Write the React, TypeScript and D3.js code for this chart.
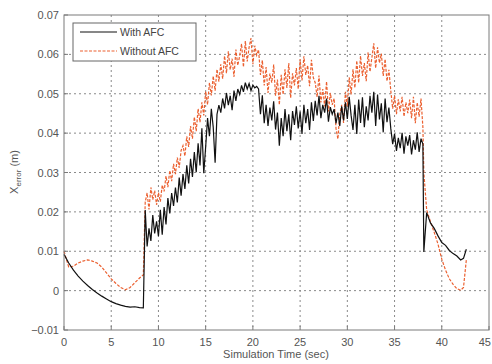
import React from "react";
import * as d3 from "d3";

// time samples (sec)
const startTime = [0, 0.5, 1, 1.5, 2, 2.5, 3, 3.5, 4, 4.5, 5, 5.5, 6, 6.5, 7, 7.5, 8, 8.4];
const noisyTime = d3.range(0, 148).map((i) => 8.6 + i * 0.2);
const tailTime = [38.1, 38.4, 38.8, 39.2, 39.6, 40.0, 40.4, 40.8, 41.2, 41.6, 42.0, 42.3, 42.6];

// With AFC (m)
const withStart = [0.0092, 0.007, 0.0052, 0.0037, 0.0024, 0.0013, 0.0003, -0.0006, -0.0014, -0.0021, -0.0028, -0.0033, -0.0037, -0.004, -0.0042, -0.0041, -0.0043, -0.0044];
const withNoisy = [
  0.0205, 0.0112, 0.0158, 0.0126, 0.0192, 0.0145, 0.0176, 0.0138, 0.0205, 0.0142,
  0.0212, 0.0168, 0.0235, 0.0196, 0.0248, 0.0215, 0.0262, 0.0224, 0.0287, 0.0241,
  0.0296, 0.0258, 0.0318, 0.0272, 0.0335, 0.0289, 0.0352, 0.0301, 0.0374, 0.0318,
  0.0412, 0.0298, 0.0365, 0.0438, 0.0392, 0.0462, 0.0415, 0.0325, 0.0448, 0.0471,
  0.0452, 0.0488, 0.0463, 0.0502, 0.0471, 0.0495, 0.0458, 0.0508, 0.0482, 0.0512,
  0.0498, 0.0521, 0.0505, 0.0528, 0.0512, 0.0526, 0.0508, 0.0522, 0.0515, 0.0519,
  0.0512, 0.0448, 0.0496, 0.0425, 0.0472, 0.0418, 0.0465, 0.0432, 0.0481, 0.0409,
  0.0452, 0.0368, 0.0438, 0.0392, 0.0461, 0.0405, 0.0448, 0.0382, 0.0456, 0.0421,
  0.0468, 0.0412, 0.0455, 0.0398, 0.0472, 0.0425, 0.0461, 0.0408, 0.0478, 0.0431,
  0.0482, 0.0445, 0.0495, 0.0438, 0.0472, 0.0452, 0.0488, 0.0429, 0.0466, 0.0448,
  0.0461, 0.0425, 0.0452, 0.0418, 0.0468, 0.0432, 0.0478, 0.0436, 0.0492, 0.0445,
  0.0408, 0.0472, 0.0398, 0.0485, 0.0426, 0.0491, 0.0415, 0.0468, 0.0432, 0.0495,
  0.0452, 0.0505, 0.0418, 0.0498, 0.0435, 0.0476, 0.0402, 0.0488, 0.0428, 0.0465,
  0.0412, 0.0372, 0.0398, 0.0355, 0.0388, 0.0362, 0.0401, 0.0348, 0.0392, 0.0368,
  0.0395, 0.0346, 0.0382, 0.0358, 0.0402, 0.0352, 0.0386, 0.0372,
];
const withTail = [0.0098, 0.0198, 0.0172, 0.0158, 0.0139, 0.0122, 0.0115, 0.0102, 0.0094, 0.0088, 0.0078, 0.0082, 0.0105];

// Without AFC (m)
const withoutStart = [0.01, 0.006, 0.0062, 0.007, 0.0075, 0.0078, 0.0075, 0.007, 0.006, 0.0045, 0.003, 0.0018, 0.0008, 0.0002, 0.0008, 0.002, 0.0032, 0.004];
const withoutNoisy = [
  0.0225, 0.0248, 0.0206, 0.0262, 0.0231, 0.0254, 0.0218, 0.0249, 0.0226, 0.0268,
  0.0252, 0.0291, 0.0263, 0.0305, 0.0278, 0.0322, 0.0296, 0.0338, 0.0312, 0.0356,
  0.0368, 0.0342, 0.0392, 0.0365, 0.0418, 0.0386, 0.0441, 0.0405, 0.0462, 0.0428,
  0.0478, 0.0445, 0.0506, 0.0472, 0.0528, 0.0496, 0.0545, 0.0508, 0.0562, 0.0531,
  0.0575, 0.0538, 0.0596, 0.0552, 0.0608, 0.0561, 0.0589, 0.0543, 0.0612, 0.0572,
  0.0596, 0.0627, 0.0568, 0.0634, 0.0582, 0.0618, 0.0641, 0.0575, 0.0622, 0.0598,
  0.0612, 0.0548, 0.0585, 0.0521, 0.0568, 0.0502, 0.0551, 0.0528, 0.0574, 0.0495,
  0.0536, 0.0472, 0.0548, 0.0498, 0.0562, 0.0515, 0.0578, 0.0489, 0.0552, 0.0521,
  0.0565, 0.0512, 0.0588, 0.0534, 0.0595, 0.0548, 0.0572, 0.0519, 0.0586, 0.0541,
  0.0528, 0.0492, 0.0546, 0.0478, 0.0512, 0.0468, 0.0531, 0.0455, 0.0502, 0.0472,
  0.0488, 0.0412, 0.0385, 0.0448, 0.0472, 0.0426, 0.0505, 0.0468, 0.0542, 0.0498,
  0.0562, 0.0515, 0.0584, 0.0528, 0.0596, 0.0545, 0.0578, 0.0532, 0.0605, 0.0556,
  0.0592, 0.0628, 0.0565, 0.0618, 0.0578, 0.0602, 0.0545, 0.0588, 0.0532, 0.0561,
  0.0508, 0.0462, 0.0495, 0.0448, 0.0486, 0.0455, 0.0492, 0.0442, 0.0478, 0.0451,
  0.0485, 0.0438, 0.0492, 0.0425, 0.0478, 0.0442, 0.0488, 0.0415,
];
const withoutTail = [0.03, 0.0205, 0.0175, 0.0148, 0.0118, 0.008, 0.0052, 0.003, 0.0016, 0.0005, 0.0001, 0.0008, 0.0078];

const xTicks = [0, 5, 10, 15, 20, 25, 30, 35, 40, 45];
const yTicks = [-0.01, 0, 0.01, 0.02, 0.03, 0.04, 0.05, 0.06, 0.07];
const seriesNames = ["With AFC", "Without AFC"];

const width = 492;
const height = 364;
const plot = { left: 64, right: 489, top: 15, bottom: 330 };
const font = "'Liberation Sans', Arial, sans-serif";

export default function App() {
  const x = d3.scaleLinear().domain([0, 45]).range([plot.left, plot.right]);
  const y = d3.scaleLinear().domain([-0.01, 0.07]).range([plot.bottom, plot.top]);

  const time = [...startTime, ...noisyTime, ...tailTime];
  const withAfc = [...withStart, ...withNoisy, ...withTail];
  const withoutAfc = [...withoutStart, ...withoutNoisy, ...withoutTail];

  const line = d3
    .line<number>()
    .x((d, i) => x(time[i]))
    .y((d) => y(d));

  const gridColor = "#8a8a8a";
  const orange = "#eb6030";

  return (
    <svg
      width={width}
      height={height}
      style={{ position: "absolute", left: 0, top: 0, background: "#fff" }}
      fontFamily={font}
    >
      <rect x={0} y={0} width={width} height={height} fill="#fff" />
      {/* grid */}
      {xTicks.slice(1, -1).map((t) => (
        <line key={"gx" + t} x1={x(t)} x2={x(t)} y1={plot.top} y2={plot.bottom}
          stroke={gridColor} strokeWidth={1} strokeDasharray="2,3" />
      ))}
      {yTicks.slice(1, -1).map((t) => (
        <line key={"gy" + t} x1={plot.left} x2={plot.right} y1={y(t)} y2={y(t)}
          stroke={gridColor} strokeWidth={1} strokeDasharray="2,3" />
      ))}

      {/* series */}
      <path d={line(withoutAfc) || ""} fill="none" stroke={orange} strokeWidth={1.2} strokeDasharray="3,1.5" />
      <path d={line(withAfc) || ""} fill="none" stroke="#111" strokeWidth={1.2} />

      {/* frame */}
      <rect x={plot.left} y={plot.top} width={plot.right - plot.left} height={plot.bottom - plot.top}
        fill="none" stroke="#7a7a7a" strokeWidth={1} />
      {xTicks.map((t, i) => (
        <g key={"tx" + t}>
          <line x1={x(t)} x2={x(t)} y1={plot.bottom} y2={plot.bottom - 4} stroke="#7a7a7a" />
          <text x={i === xTicks.length - 1 ? width - 1 : x(t)} y={346} fontSize={11} fill="#555"
            textAnchor={i === xTicks.length - 1 ? "end" : "middle"}>{t}</text>
        </g>
      ))}
      {yTicks.map((t) => (
        <g key={"ty" + t}>
          <line x1={plot.left} x2={plot.left + 4} y1={y(t)} y2={y(t)} stroke="#7a7a7a" />
          <text x={59} y={y(t) + 4} fontSize={11} fill="#555" textAnchor="end">
            {t === 0 ? "0" : d3.format(".2f")(t)}
          </text>
        </g>
      ))}

      {/* axis labels */}
      <text x={276} y={358} fontSize={11} fill="#555" textAnchor="middle">Simulation Time (sec)</text>
      <text transform="translate(18,172) rotate(-90)" fontSize={11} fill="#555" textAnchor="middle">
        X<tspan fontSize={8} dy={3}>error</tspan>
        <tspan dy={-3}> (m)</tspan>
      </text>

      {/* legend */}
      <rect x={73} y={23} width={123} height={38} fill="#fff" stroke="#666" strokeWidth={1} />
      <line x1={80} x2={117} y1={32} y2={32} stroke="#111" strokeWidth={1.2} />
      <line x1={80} x2={117} y1={51} y2={51} stroke={orange} strokeWidth={1.2} strokeDasharray="3,1.5" />
      <text x={120} y={36} fontSize={10.5} fill="#444">{seriesNames[0]}</text>
      <text x={120} y={55} fontSize={10.5} fill="#444">{seriesNames[1]}</text>
    </svg>
  );
}
